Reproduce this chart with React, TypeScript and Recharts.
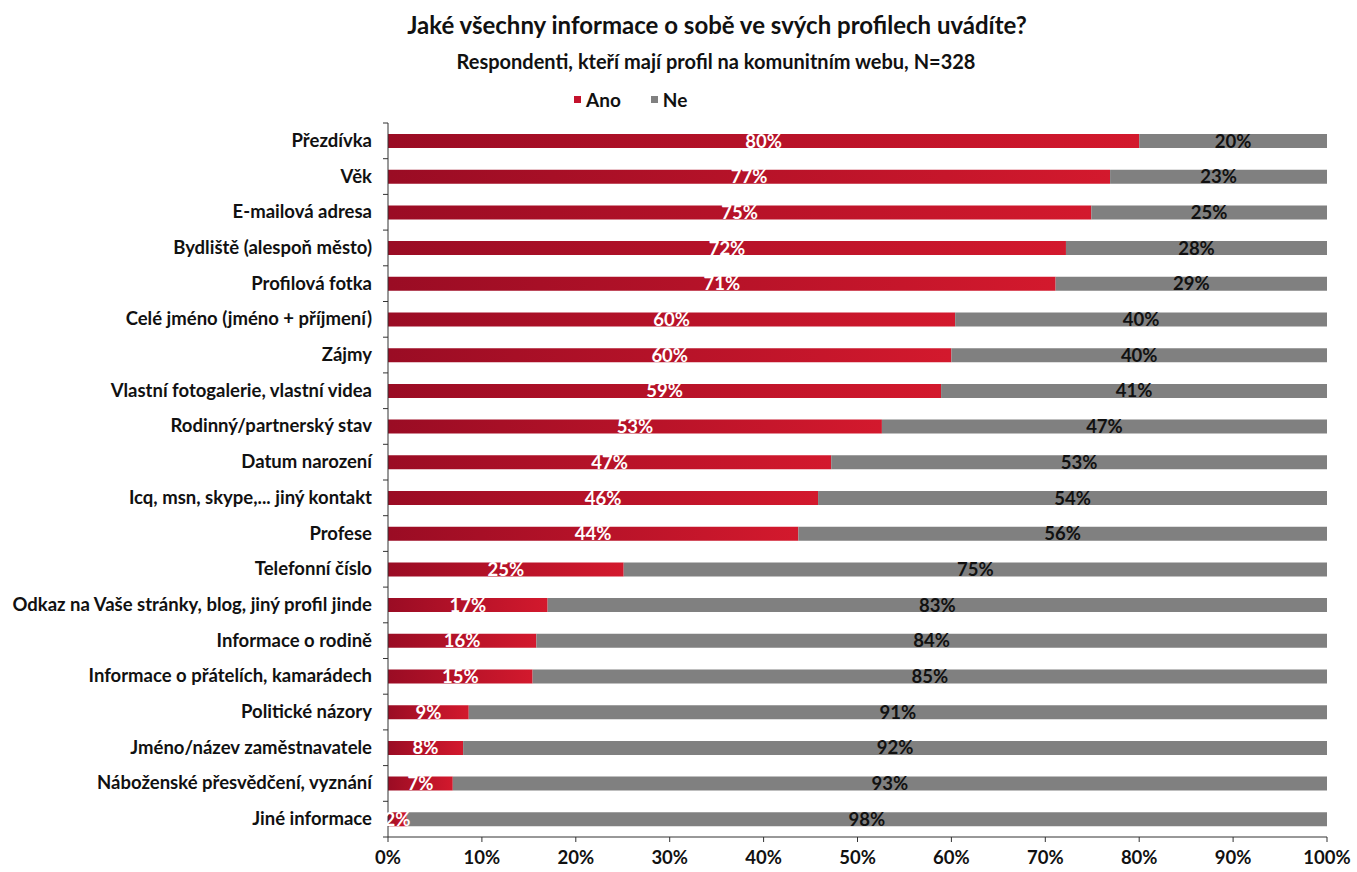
import { BarChart, Bar, XAxis, YAxis, LabelList } from "recharts";

const categories = [
  "Přezdívka",
  "Věk",
  "E-mailová adresa",
  "Bydliště (alespoň město)",
  "Profilová fotka",
  "Celé jméno (jméno + příjmení)",
  "Zájmy",
  "Vlastní fotogalerie, vlastní videa",
  "Rodinný/partnerský stav",
  "Datum narození",
  "Icq, msn, skype,... jiný kontakt",
  "Profese",
  "Telefonní číslo",
  "Odkaz na Vaše stránky, blog, jiný profil jinde",
  "Informace o rodině",
  "Informace o přátelích, kamarádech",
  "Politické názory",
  "Jméno/název zaměstnavatele",
  "Náboženské přesvědčení, vyznání",
  "Jiné informace",
];

const ano = [80.0, 76.9, 74.9, 72.2, 71.1, 60.4, 60.0, 58.9, 52.6, 47.2, 45.8, 43.7, 25.1, 17.0, 15.8, 15.4, 8.6, 8.0, 6.9, 2.0];
const ne = [20.0, 23.1, 25.1, 27.8, 28.9, 39.6, 40.0, 41.1, 47.4, 52.8, 54.2, 56.3, 74.9, 83.0, 84.2, 84.6, 91.4, 92.0, 93.1, 98.0];

const xTicks = [0, 10, 20, 30, 40, 50, 60, 70, 80, 90, 100];

const data = categories.map((name, i) => ({ name, ano: ano[i], ne: ne[i] }));

const FONT = "Lato, 'Open Sans', sans-serif";
const TOP = 123;
const BOTTOM = 837;
const band = (BOTTOM - TOP) / categories.length;

function CategoryTick(props: any) {
  const { x, y, payload, index } = props;
  return (
    <g>
      <text
        x={x - 16}
        y={y}
        dy={6}
        textAnchor="end"
        fontFamily={FONT}
        fontWeight={700}
        fontSize={18.5}
        fill="#111"
      >
        {payload.value}
      </text>
      {index === 0 && (
        <line x1={x - 5} x2={x} y1={y - band / 2} y2={y - band / 2} stroke="#333" />
      )}
      <line x1={x - 5} x2={x} y1={y + band / 2} y2={y + band / 2} stroke="#333" />
    </g>
  );
}

const pct = (v: any) => `${Math.round(Number(v))}%`;

export default function App() {
  return (
    <div
      style={{
        position: "absolute",
        left: 0,
        top: 0,
        width: 1357,
        height: 872,
        background: "#fff",
        fontFamily: FONT,
      }}
    >
      <div
        style={{
          position: "absolute",
          top: 10,
          left: 0,
          width: 1434,
          textAlign: "center",
          fontSize: 24,
          fontWeight: 700,
          color: "#111",
        }}
      >
        Jaké všechny informace o sobě ve svých profilech uvádíte?
      </div>
      <div
        style={{
          position: "absolute",
          top: 49,
          left: 0,
          width: 1432,
          textAlign: "center",
          fontSize: 20,
          fontWeight: 700,
          color: "#111",
        }}
      >
        Respondenti, kteří mají profil na komunitním webu, N=328
      </div>
      <div
        style={{
          position: "absolute",
          top: 88,
          left: 574,
          display: "flex",
          alignItems: "center",
          fontSize: 19,
          fontWeight: 700,
          color: "#111",
        }}
      >
        <span style={{ width: 7, height: 7, background: "#c4122c", marginRight: 5 }} />
        <span style={{ marginRight: 30 }}>Ano</span>
        <span style={{ width: 7, height: 7, background: "#808080", marginRight: 5 }} />
        <span>Ne</span>
      </div>
      <BarChart
        width={1357}
        height={872}
        data={data}
        layout="vertical"
        margin={{ top: TOP, right: 30, bottom: 0, left: 0 }}
        barCategoryGap="0%"
        style={{ position: "absolute", left: 0, top: 0 }}
      >
        <defs>
          <linearGradient id="redGrad" x1="0" y1="0" x2="1" y2="0">
            <stop offset="0%" stopColor="#9a0c24" />
            <stop offset="100%" stopColor="#d3192d" />
          </linearGradient>
        </defs>
        <XAxis
          type="number"
          domain={[0, 100]}
          ticks={xTicks}
          tickFormatter={(v) => `${v}%`}
          height={35}
          tickSize={5}
          tickMargin={9}
          axisLine={{ stroke: "#333" }}
          tickLine={{ stroke: "#333" }}
          tick={{ fontFamily: FONT, fontWeight: 700, fontSize: 18.5, fill: "#111" }}
          interval={0}
        />
        <YAxis
          type="category"
          dataKey="name"
          width={388}
          tickSize={0}
          tickMargin={0}
          tickLine={false}
          axisLine={{ stroke: "#333" }}
          tick={<CategoryTick />}
          interval={0}
        />
        <Bar dataKey="ano" stackId="a" fill="url(#redGrad)" barSize={14} isAnimationActive={false}>
          <LabelList
            dataKey="ano"
            position="center"
            formatter={pct}
            fill="#fff"
            style={{ fontFamily: FONT, fontWeight: 700, fontSize: 18.5 }}
          />
        </Bar>
        <Bar dataKey="ne" stackId="a" fill="#808080" barSize={14} isAnimationActive={false}>
          <LabelList
            dataKey="ne"
            position="center"
            formatter={pct}
            fill="#111"
            style={{ fontFamily: FONT, fontWeight: 700, fontSize: 18.5 }}
          />
        </Bar>
      </BarChart>
    </div>
  );
}
